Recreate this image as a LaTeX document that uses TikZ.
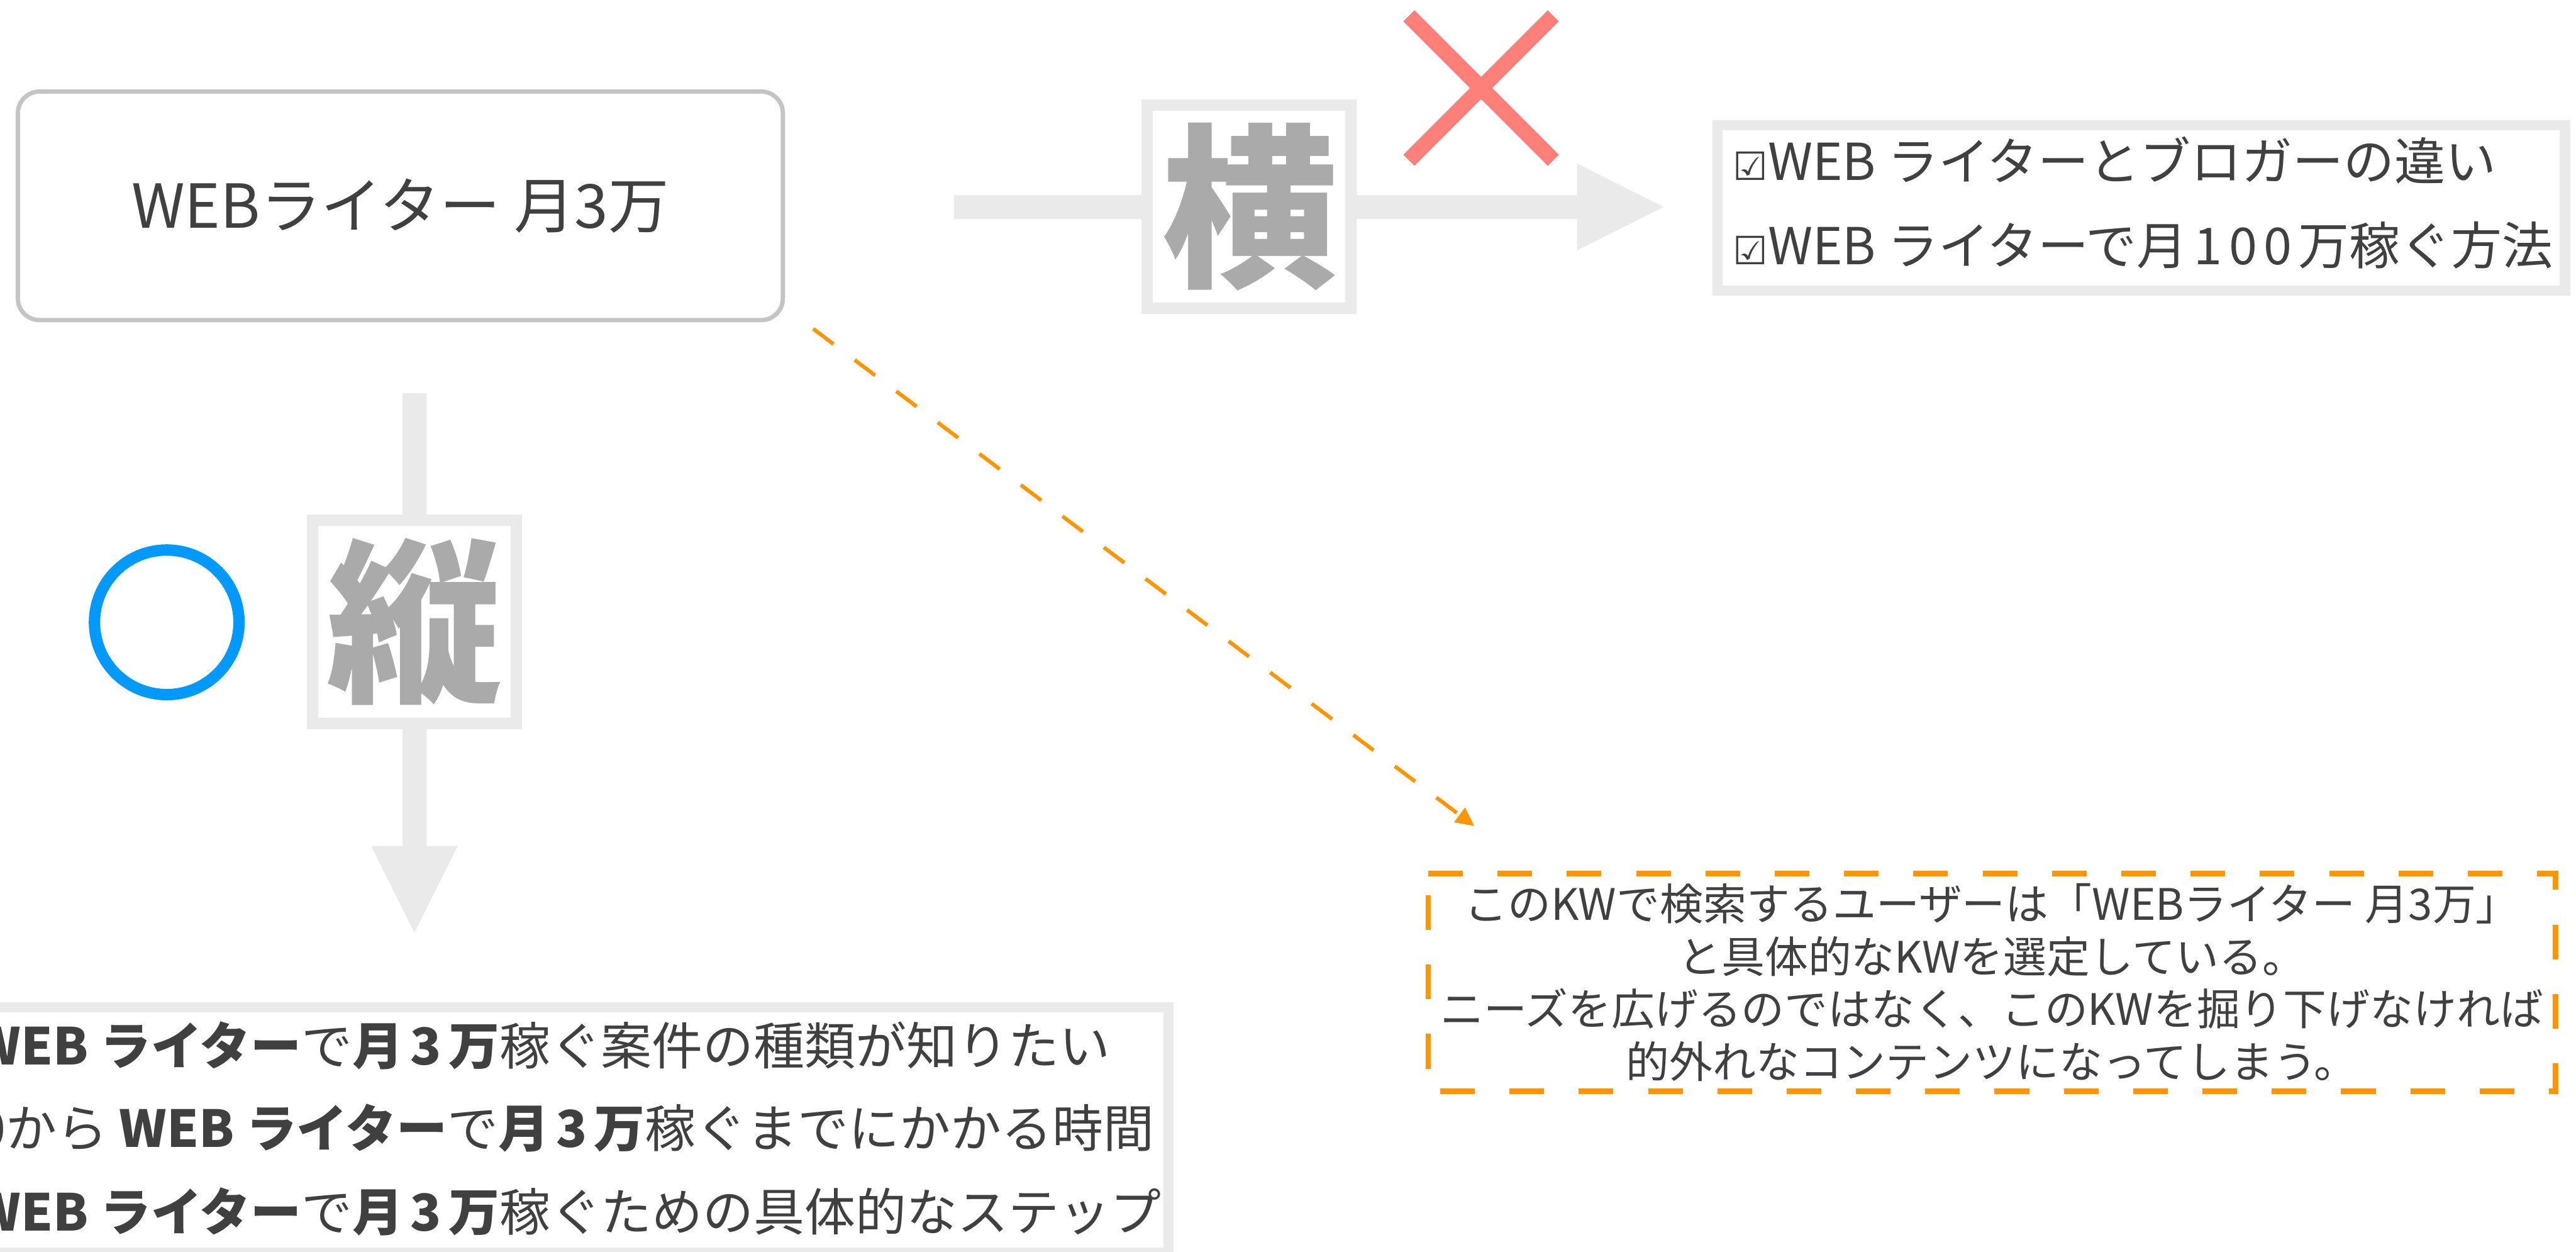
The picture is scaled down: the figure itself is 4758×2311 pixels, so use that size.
\documentclass[tikz,border=0pt]{standalone}
\usepackage{fontspec}
\setmainfont{Noto Sans CJK JP}
\newfontfamily\symfont{DejaVu Sans}
\usetikzlibrary{arrows.meta}
\definecolor{txt}{HTML}{404040}
\definecolor{boxgray}{HTML}{C4C4C4}
\definecolor{light}{HTML}{EAEAEA}
\definecolor{glyph}{HTML}{AAAAAA}
\definecolor{xred}{HTML}{FF7F7B}
\definecolor{oblue}{HTML}{0099FF}
\definecolor{orng}{HTML}{FF9600}
\tikzset{
 mainbox/.style={draw=boxgray, line width=1.6pt, rounded corners=8pt, fill=white, minimum width=282.6pt, minimum height=84.4pt, inner sep=0pt, text=txt, font=\fontsize{22.4}{26}\selectfont},
 kbox/.style={draw=light, line width=4.2pt, fill=white, minimum width=75.4pt, minimum height=75pt, inner sep=0pt, text=glyph, font=\bfseries\fontsize{65}{70}\selectfont},
 lbox/.style={draw=light, line width=3.8pt, fill=white, inner sep=0pt},
 ltext/.style={anchor=base west, inner sep=0pt, text=txt, font=\fontsize{18.8}{23}\selectfont},
 bigarrow/.style={draw=light, line width=8.8pt, -{Triangle[length=32pt,width=32pt,line width=0pt]}},
 xline/.style={draw=xred, line width=5.8pt},
 maru/.style={draw=oblue, line width=4.2pt, circle, minimum size=53.4pt, inner sep=0pt},
 notebox/.style={align=center, inner sep=0pt, minimum width=416pt, minimum height=80pt, text=txt, font=\fontsize{16}{19.4}\selectfont},
 noteborder/.style={draw=orng, line width=2pt, dash pattern=on 12.8pt off 12.8pt},
 notearrow/.style={draw=orng, line width=1.4pt, dash pattern=on 9.4pt off 9.8pt, -{Triangle[length=6.8pt,width=6.8pt,line width=0pt]}}
}
\newcommand{\chkbox}{{\symfont\fontsize{14.4}{14}\selectfont ☑}}
\newcommand{\gsp}{\hspace{2.6pt}}
\newcommand{\dsp}{\hspace{2.4pt}}
\newcommand{\tsan}{{\bfseries 月\gsp3\gsp 万}}
\newcommand{\webwr}{{\bfseries WEB ライター}}
\begin{document}
\begin{tikzpicture}[x=0.2pt, y=-0.2pt]
\useasboundingbox (0,0) rectangle (4758,2311);
\fill[white] (0,0) rectangle (4758,2311);

% gray arrows
\coordinate (hs) at (1762,382);
\coordinate (he) at (3073,382);
\coordinate (vs) at (765.5,726);
\coordinate (ve) at (765.5,1722);
\draw[bigarrow] (hs) -- (he);
\draw[bigarrow] (vs) -- (ve);

% main box
\node[mainbox] (main) at (739.5,380) {WEBライター 月3万};

% labels on arrows
\node[kbox] (yoko) at (2307,382) {横};
\node[kbox] (tate) at (765.5,1148) {縦};

% red cross
\draw[xline] (2602.3,29.2) -- (2869,295.8);
\draw[xline] (2869,29.2) -- (2602.3,295.8);

% blue circle
\node[maru] (maru) at (308,1149) {};

% right box
\node[lbox, minimum width=313pt, minimum height=61pt] (rbox) at (3955,384) {};
\node[ltext] (r1) at (3200,333) {\chkbox WEB ライターとブロガーの違い};
\node[ltext] (r2) at (3200,489) {\chkbox WEB ライターで月\dsp1\dsp0\dsp0\dsp 万稼ぐ方法};

% bottom box
\node[lbox, minimum width=451.6pt, minimum height=90.6pt] (bbox) at (1029,2086.5) {};
\node[ltext] (b1) at (-50,1966) {\webwr で\tsan 稼ぐ案件の種類が知りたい};
\node[ltext] (b2) at (-42,2118) {0から \webwr で\tsan 稼ぐまでにかかる時間};
\node[ltext] (b3) at (-50,2273) {\webwr で\tsan 稼ぐための具体的なステップ};

% note box
\node[notebox] (note) at (3679,1814) {このKWで検索するユーザーは「WEBライター 月3万」\\と具体的なKWを選定している。\\ニーズを広げるのではなく、このKWを掘り下げなければ\\的外れなコンテンツになってしまう。};
\draw[noteborder] (note.north west) -- (note.north east) -- (note.south east) -- (note.south west) -- cycle;

% dashed arrow
\coordinate (ds) at (1502,607);
\coordinate (de) at (2723,1525);
\draw[notearrow] (ds) -- (de);
\end{tikzpicture}
\end{document}
